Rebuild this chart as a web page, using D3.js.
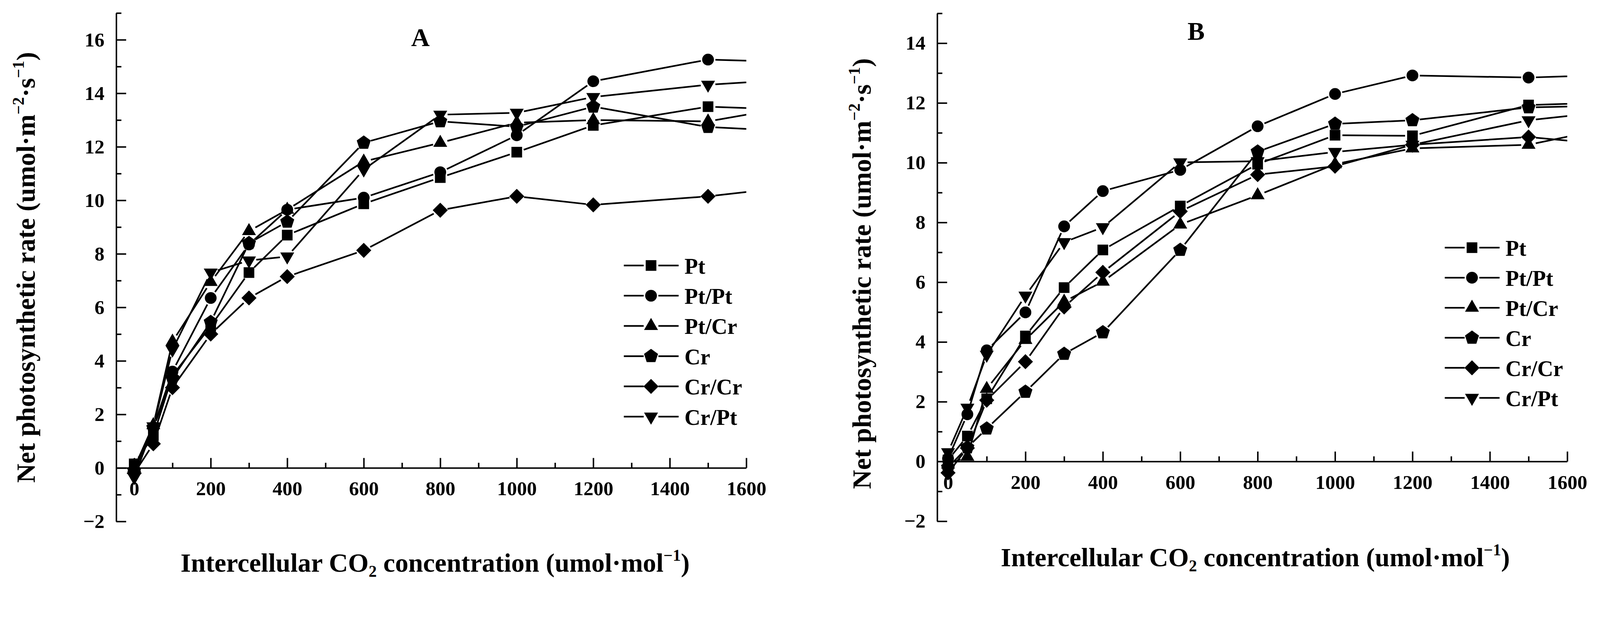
<!DOCTYPE html>
<html lang="en">
  <head>
    <meta charset="utf-8" />
    <script src="https://d3js.org/d3.v7.min.js"></script>
    <style>
      html, body { margin: 0; padding: 0; background: #ffffff; overflow: hidden; }
      svg { display: block; width: 100vw; height: auto; }
      text { font-family: "Liberation Serif", "Times New Roman", serif; font-weight: bold; fill: #000; }
    </style>
  </head>
  <body>
    <script>
      // CO2 steps (the last one lies past the axis end and is clipped)
      var concentration = [0, 50, 100, 200, 300, 400, 600, 800, 1000, 1200, 1500, 1800];
      var groups = ["Pt", "Pt/Pt", "Pt/Cr", "Cr", "Cr/Cr", "Cr/Pt"];

      // panel A values
      var rateA_Pt   = [0.15, 1.2, 3.45, 5.3, 7.3, 8.7, 9.87, 10.85, 11.8, 12.8, 13.5, 13.35];
      var rateA_PtPt = [-0.05, 1.5, 3.6, 6.35, 8.35, 9.65, 10.1, 11.05, 12.43, 14.45, 15.26, 15.14];
      var rateA_PtCr = [0.0, 1.6, 4.72, 6.95, 8.85, 9.65, 11.45, 12.15, 12.9, 13.0, 12.95, 13.7];
      var rateA_Cr   = [-0.1, 1.5, 3.35, 5.45, 8.4, 9.2, 12.15, 12.95, 12.75, 13.5, 12.74, 12.53];
      var rateA_CrCr = [-0.2, 0.9, 3.0, 5.0, 6.35, 7.15, 8.13, 9.63, 10.15, 9.83, 10.15, 10.63];
      var rateA_CrPt = [-0.35, 1.55, 4.42, 7.3, 7.75, 7.9, 11.15, 13.2, 13.27, 13.86, 14.32, 14.59];

      // panel B values
      var rateB_Pt   = [0.05, 0.85, 2.1, 4.2, 5.82, 7.08, 8.55, 9.95, 10.92, 10.9, 11.93, 12.05];
      var rateB_PtPt = [0.1, 1.58, 3.72, 4.99, 7.87, 9.05, 9.76, 11.22, 12.3, 12.92, 12.85, 12.97];
      var rateB_PtCr = [-0.1, 0.16, 2.43, 4.07, 5.35, 6.02, 7.93, 8.91, 9.95, 10.48, 10.6, 11.41];
      var rateB_Cr   = [-0.2, 0.47, 1.1, 2.33, 3.6, 4.32, 7.08, 10.37, 11.3, 11.42, 11.85, 11.94];
      var rateB_CrCr = [-0.38, 0.45, 2.05, 3.34, 5.17, 6.33, 8.37, 9.6, 9.88, 10.6, 10.86, 10.5];
      var rateB_CrPt = [0.31, 1.8, 3.57, 5.55, 7.34, 7.84, 10.01, 10.05, 10.36, 10.6, 11.42, 11.84];

      // ticks
      var xTicks = [0, 200, 400, 600, 800, 1000, 1200, 1400, 1600];
      var xMinorTicks = [100, 300, 500, 700, 900, 1100, 1300, 1500];
      var yTicksA = [-2, 0, 2, 4, 6, 8, 10, 12, 14, 16];
      var yMinorA = [-1, 1, 3, 5, 7, 9, 11, 13, 15, 17];
      var yTicksB = [-2, 0, 2, 4, 6, 8, 10, 12, 14];
      var yMinorB = [-1, 1, 3, 5, 7, 9, 11, 13, 15];

      var width = 4350,
        height = 1603;

      var svg = d3
        .select("body")
        .append("svg")
        .attr("viewBox", "0 0 " + width + " " + height)
        .attr("preserveAspectRatio", "xMinYMin meet");

      svg.append("rect").attr("width", width).attr("height", height).attr("fill", "#fff");

      // pentagon symbol (point up)
      var symbolPentagon = {
        draw: function (context, size) {
          var r = Math.sqrt(size / 2.378);
          for (var i = 0; i < 5; i++) {
            var a = -Math.PI / 2 + (i * 2 * Math.PI) / 5;
            if (i === 0) context.moveTo(r * Math.cos(a), r * Math.sin(a));
            else context.lineTo(r * Math.cos(a), r * Math.sin(a));
          }
          context.closePath();
        }
      };

      // marker for each group: type, size, rotation
      var markers = [
        { type: d3.symbolSquare, size: 841, rot: 0 },
        { type: d3.symbolCircle, size: 804, rot: 0 },
        { type: d3.symbolTriangle, size: 625, rot: 0 },
        { type: symbolPentagon, size: 951, rot: 0 },
        { type: d3.symbolSquare, size: 841, rot: 45 },
        { type: d3.symbolTriangle, size: 625, rot: 180 }
      ];

      var gap = 20; // white space between line ends and markers

      function drawMarker(g, i, px, py) {
        var m = markers[i];
        g.append("path")
          .attr("d", d3.symbol().type(m.type).size(m.size)())
          .attr("transform", "translate(" + px + "," + py + ") rotate(" + m.rot + ")")
          .attr("fill", "#000");
      }

      function drawPanel(p) {
        var x = p.x,
          y = p.y;
        var g = svg.append("g");

        // clip to the axis box
        var clipId = "clip" + p.label;
        svg
          .append("clipPath")
          .attr("id", clipId)
          .append("rect")
          .attr("x", x.range()[0])
          .attr("y", y.range()[1] - 30)
          .attr("width", x(1600) - x.range()[0])
          .attr("height", y.range()[0] - y.range()[1] + 30);

        // x axis at y = 0, ticks pointing up
        var gx = g.append("g").attr("transform", "translate(0," + y(0) + ")");
        gx.call(
          d3.axisBottom(x).tickValues(xTicks).tickSizeInner(-27).tickSizeOuter(0)
            .tickPadding(36).tickFormat(d3.format("d"))
        );
        var gxm = g.append("g").attr("transform", "translate(0," + y(0) + ")");
        gxm.call(d3.axisBottom(x).tickValues(xMinorTicks).tickSizeInner(-14).tickSizeOuter(0).tickFormat(""));
        gxm.select(".domain").remove();

        // y axis, ticks pointing right
        var gy = g.append("g").attr("transform", "translate(" + x.range()[0] + ",0)");
        gy.call(
          d3.axisLeft(y).tickValues(p.yTicks).tickSizeInner(-27).tickSizeOuter(0)
            .tickPadding(32).tickFormat(d3.format("d"))
        );
        var gym = g.append("g").attr("transform", "translate(" + x.range()[0] + ",0)");
        gym.call(d3.axisLeft(y).tickValues(p.yMinor).tickSizeInner(-14).tickSizeOuter(0).tickFormat(""));
        gym.select(".domain").remove();

        g.selectAll(".domain, .tick line").attr("stroke", "#000").attr("stroke-width", 4);
        g.selectAll(".tick text").attr("font-size", 54).attr("fill", "#000");

        // curves
        var plot = g.append("g").attr("clip-path", "url(#" + clipId + ")");
        p.series.forEach(function (vals, i) {
          var pts = concentration.map(function (c, k) {
            return [x(c), y(vals[k])];
          });
          var path = d3.path();
          for (var k = 0; k < pts.length - 1; k++) {
            var dx = pts[k + 1][0] - pts[k][0],
              dy = pts[k + 1][1] - pts[k][1];
            var len = Math.sqrt(dx * dx + dy * dy);
            if (len <= 2 * gap) continue;
            var ux = dx / len,
              uy = dy / len;
            path.moveTo(pts[k][0] + ux * gap, pts[k][1] + uy * gap);
            path.lineTo(pts[k + 1][0] - ux * gap, pts[k + 1][1] - uy * gap);
          }
          plot
            .append("path")
            .attr("d", path.toString())
            .attr("fill", "none")
            .attr("stroke", "#000")
            .attr("stroke-width", 4.5);
        });
        p.series.forEach(function (vals, i) {
          concentration.forEach(function (c, k) {
            drawMarker(plot, i, x(c), y(vals[k]));
          });
        });

        // legend
        groups.forEach(function (name, i) {
          var ly = p.legendY + i * p.legendStep;
          var lg = g.append("g");
          lg.append("line")
            .attr("x1", p.legendX - 74).attr("x2", p.legendX - gap)
            .attr("y1", ly).attr("y2", ly)
            .attr("stroke", "#000").attr("stroke-width", 4.5);
          lg.append("line")
            .attr("x1", p.legendX + gap).attr("x2", p.legendX + 75)
            .attr("y1", ly).attr("y2", ly)
            .attr("stroke", "#000").attr("stroke-width", 4.5);
          drawMarker(lg, i, p.legendX, ly);
          lg.append("text")
            .attr("x", p.legendX + 91)
            .attr("y", ly + 22)
            .attr("font-size", 60)
            .text(name);
        });

        // panel letter
        g.append("text")
          .attr("x", p.labelX)
          .attr("y", p.labelY)
          .attr("text-anchor", "middle")
          .attr("font-size", 70)
          .text(p.label);

        // x title
        var xt = g.append("text")
          .attr("x", p.xTitleX)
          .attr("y", p.xTitleY)
          .attr("text-anchor", "middle")
          .attr("font-size", 72);
        xt.append("tspan").text("Intercellular CO");
        xt.append("tspan").attr("font-size", 44).attr("dy", 14).text("2");
        xt.append("tspan").attr("dy", -14).text(" concentration (umol\u00b7mol");
        xt.append("tspan").attr("font-size", 44).attr("dy", -30).text("\u22121");
        xt.append("tspan").attr("dy", 30).text(")");

        // y title
        var yt = g.append("text")
          .attr("transform", "translate(" + p.yTitleX + "," + p.yTitleY + ") rotate(-90)")
          .attr("text-anchor", "middle")
          .attr("font-size", 72);
        yt.append("tspan").text("Net photosynthetic rate (umol\u00b7m");
        yt.append("tspan").attr("font-size", 44).attr("dy", -30).text("\u22122");
        yt.append("tspan").attr("dy", 30).text("\u00b7s");
        yt.append("tspan").attr("font-size", 44).attr("dy", -30).text("\u22121");
        yt.append("tspan").attr("dy", 30).text(")");
      }

      drawPanel({
        label: "A",
        x: d3.scaleLinear().domain([-47, 1600]).range([316, 2029]),
        y: d3.scaleLinear().domain([-2, 17]).range([1418, 35.4]),
        yTicks: yTicksA,
        yMinor: yMinorA,
        series: [rateA_Pt, rateA_PtPt, rateA_PtCr, rateA_Cr, rateA_CrCr, rateA_CrPt],
        legendX: 1770,
        legendY: 722,
        legendStep: 82.2,
        labelX: 1143,
        labelY: 125,
        xTitleX: 1183,
        xTitleY: 1555,
        yTitleX: 95,
        yTitleY: 727
      });

      drawPanel({
        label: "B",
        x: d3.scaleLinear().domain([-28, 1600]).range([2548, 4261]),
        y: d3.scaleLinear().domain([-2, 15]).range([1417.5, 36.2]),
        yTicks: yTicksB,
        yMinor: yMinorB,
        series: [rateB_Pt, rateB_PtPt, rateB_PtCr, rateB_Cr, rateB_CrCr, rateB_CrPt],
        legendX: 4002,
        legendY: 673.5,
        legendStep: 81.7,
        labelX: 3252,
        labelY: 108,
        xTitleX: 3413,
        xTitleY: 1540,
        yTitleX: 2367,
        yTitleY: 744
      });
    </script>
  </body>
</html>
